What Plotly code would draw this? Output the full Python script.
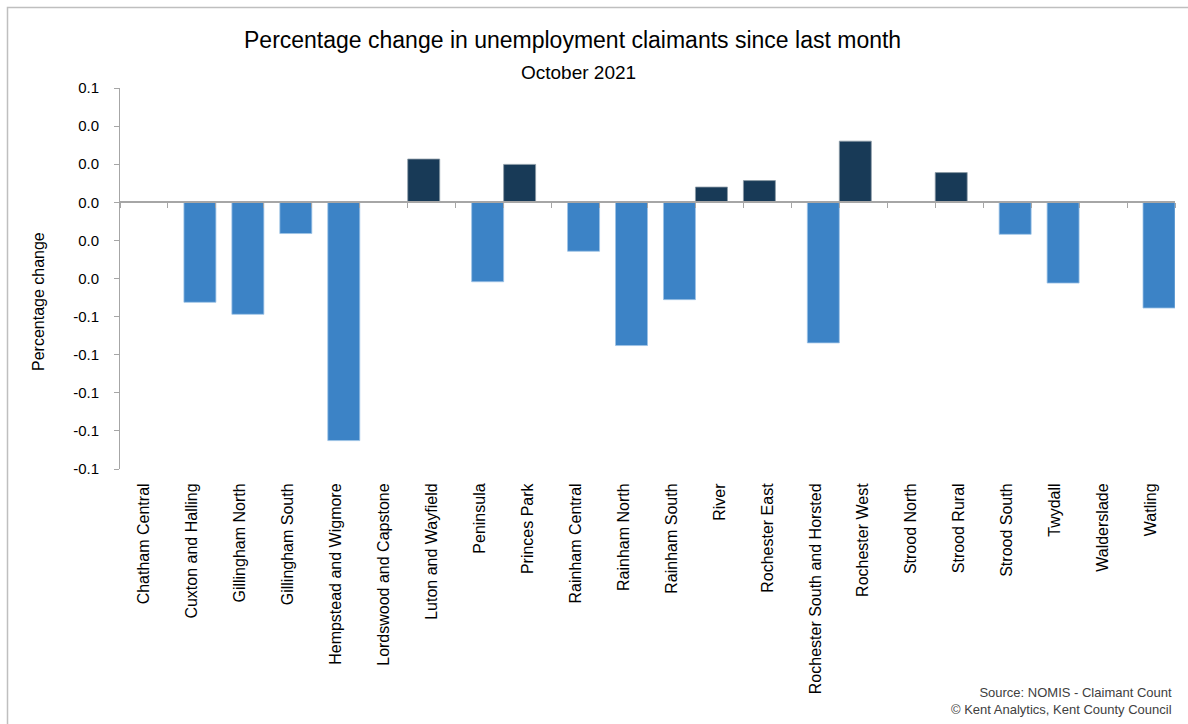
import plotly.graph_objects as go

categories = [
    "Chatham Central", "Cuxton and Halling", "Gillingham North", "Gillingham South",
    "Hempstead and Wigmore", "Lordswood and Capstone", "Luton and Wayfield", "Peninsula",
    "Princes Park", "Rainham Central", "Rainham North", "Rainham South", "River",
    "Rochester East", "Rochester South and Horsted", "Rochester West", "Strood North",
    "Strood Rural", "Strood South", "Twydall", "Walderslade", "Watling",
]
values = [
    0.0, -0.0525, -0.0588, -0.0164,
    -0.1251, 0.0, 0.0227, -0.0417,
    0.0199, -0.0257, -0.0752, -0.0511, 0.0080,
    0.0114, -0.0738, 0.0321, 0.0,
    0.0156, -0.0168, -0.0424, 0.0, -0.0555,
]
tick_vals = [0.06, 0.04, 0.02, 0.0, -0.02, -0.04, -0.06, -0.08, -0.10, -0.12, -0.14]
tick_text = ["0.1", "0.0", "0.0", "0.0", "0.0", "0.0", "-0.1", "-0.1", "-0.1", "-0.1", "-0.1"]

increase = [v if v > 0 else None for v in values]
decrease = [v if v < 0 else None for v in values]

W, H = 1188, 724
L, R, T, B = 120, 13, 88, 255
pw, ph = W - L - R, H - T - B
ymin, ymax = -0.14, 0.06

def px_x(p):
    return (p - L) / pw

def px_y(p):
    return (H - B - p) / ph

LIGHT = "#3C83C6"
DARK = "#183A57"
GRAY = "#A6A6A6"
FONT = "Liberation Sans, Arial, sans-serif"

fig = go.Figure()
fig.add_trace(go.Bar(
    x=categories, y=decrease, name="Decrease",
    marker=dict(color=LIGHT, line=dict(color="#9DC3E6", width=0.8)),
    width=0.667, offset=-0.167, hoverinfo="x+y",
))
fig.add_trace(go.Bar(
    x=categories, y=increase, name="Increase",
    marker=dict(color=DARK, line=dict(color="#8C9AA6", width=0.8)),
    width=0.667, offset=-0.5, hoverinfo="x+y",
))
# invisible trace that carries the zero-line category axis
fig.add_trace(go.Scatter(
    x=categories, y=[0] * len(categories), xaxis="x2", mode="markers",
    marker=dict(opacity=0), hoverinfo="skip", showlegend=False,
))

zero_pos = (0 - ymin) / (ymax - ymin)

fig.update_layout(
    width=W, height=H,
    margin=dict(l=L, r=R, t=T, b=B, pad=0),
    paper_bgcolor="white", plot_bgcolor="white",
    barmode="overlay", showlegend=False,
    font=dict(family=FONT, color="#000000"),
    xaxis=dict(
        type="category", categoryorder="array", categoryarray=categories,
        range=[-0.5, len(categories) - 0.5],
        showline=False, showgrid=False, zeroline=False,
        ticks="outside", ticklen=7, tickcolor="rgba(0,0,0,0)",
        tickangle=-90, tickfont=dict(size=16, family=FONT, color="#000000"),
    ),
    xaxis2=dict(
        type="category", categoryorder="array", categoryarray=categories,
        overlaying="x", matches="x", anchor="free", position=zero_pos,
        showline=True, linecolor=GRAY, linewidth=1.5,
        ticks="outside", tickson="boundaries", ticklen=5, tickcolor=GRAY, tickwidth=1,
        showticklabels=False, showgrid=False, zeroline=False,
    ),
    yaxis=dict(
        range=[ymin, ymax], tickvals=tick_vals, ticktext=tick_text,
        showline=True, linecolor=GRAY, linewidth=1,
        ticks="outside", ticklen=5, tickcolor=GRAY,
        showgrid=False, zeroline=False,
        tickfont=dict(size=15, family=FONT, color="#000000"),
        ticklabelstandoff=12,
    ),
    annotations=[
        dict(text="Percentage change in unemployment claimants since last month",
             xref="paper", yref="paper", x=px_x(572), y=px_y(40),
             xanchor="center", yanchor="middle", showarrow=False,
             font=dict(size=23, family=FONT, color="#000000")),
        dict(text="October 2021",
             xref="paper", yref="paper", x=px_x(578), y=px_y(72),
             xanchor="center", yanchor="middle", showarrow=False,
             font=dict(size=19, family=FONT, color="#000000")),
        dict(text="Percentage change",
             xref="paper", yref="paper", x=px_x(38), y=px_y(302),
             xanchor="center", yanchor="middle", showarrow=False, textangle=-90,
             font=dict(size=16, family=FONT, color="#000000")),
        dict(text="Source: NOMIS - Claimant Count<br>© Kent Analytics, Kent County Council",
             xref="paper", yref="paper", x=px_x(1174), y=px_y(701),
             xanchor="right", yanchor="middle", align="right", showarrow=False,
             font=dict(size=13, family=FONT, color="#404040")),
    ],
    shapes=[
        dict(type="rect", xref="paper", yref="paper",
             x0=px_x(7.5), x1=px_x(1200), y0=px_y(740), y1=px_y(7.5),
             line=dict(color="#BFBFBF", width=1.5), fillcolor="rgba(0,0,0,0)",
             layer="below"),
    ],
)

fig.write_html(
    "out.html",
    config={"displayModeBar": False},
    post_script="document.body.style.margin='0';document.body.style.padding='0';"
                "document.body.style.overflow='hidden';",
)
